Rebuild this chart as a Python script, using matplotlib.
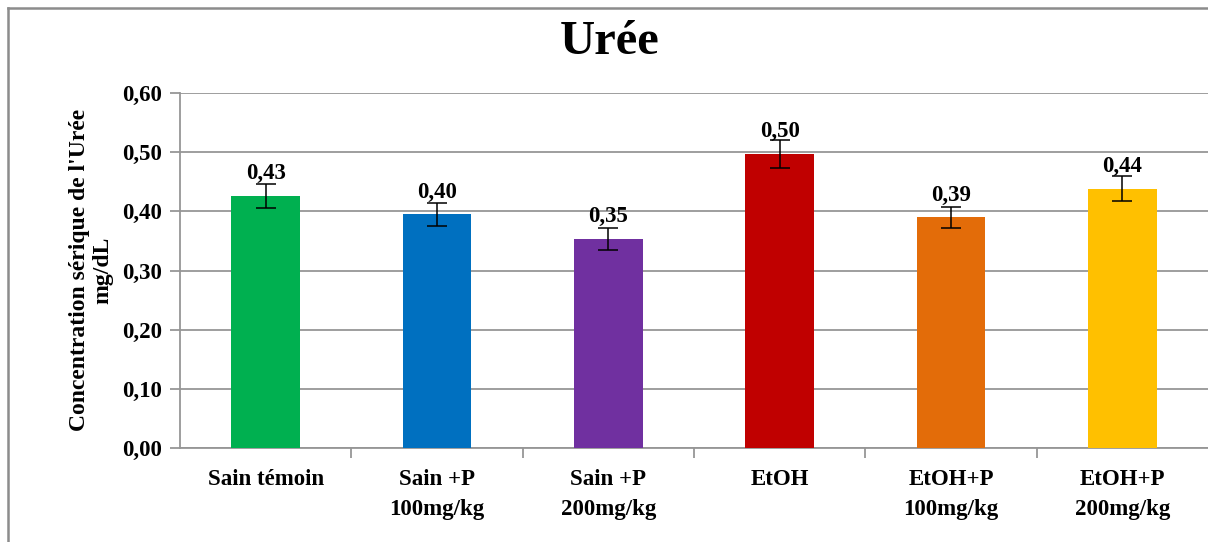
import matplotlib
matplotlib.use("Agg")
import matplotlib.pyplot as plt
from matplotlib.lines import Line2D
from matplotlib.ticker import FuncFormatter, FixedLocator

# Daten
groups = ["Sain témoin", "Sain +P\n100mg/kg", "Sain +P\n200mg/kg",
          "EtOH", "EtOH+P\n100mg/kg", "EtOH+P\n200mg/kg"]
means = [0.426, 0.395, 0.353, 0.497, 0.390, 0.438]
errors = [0.020, 0.019, 0.019, 0.024, 0.018, 0.021]
colors = ["#00B050", "#0070C0", "#7030A0", "#C00000", "#E36C09", "#FFC000"]
yticks = [0.0, 0.1, 0.2, 0.3, 0.4, 0.5, 0.6]

plt.rcParams["font.family"] = ["Liberation Serif", "DejaVu Serif"]
plt.rcParams["font.weight"] = "bold"

W, H = 1208, 542
fig = plt.figure(figsize=(W / 100, H / 100), dpi=100)
ax = fig.add_axes([180 / W, 1 - 448 / H, 1 - 180 / W, (448 - 93) / H])

x = list(range(len(groups)))
ax.bar(x, means, width=0.40, color=colors, zorder=3)
ax.errorbar(x, means, yerr=errors, fmt="none", ecolor="black",
            elinewidth=1.1, capsize=7, capthick=1.1, zorder=4)

def comma(v, pos=None):
    return f"{v:.2f}".replace(".", ",")

# Werte ueber die Balken schreiben
for xi, v in zip(x, means):
    ax.annotate(comma(v), (xi, v), xytext=(0, 16), textcoords="offset points",
                ha="center", va="center", fontsize=16.5, fontweight="bold")

ax.set_xlim(-0.5, len(groups) - 0.5)
ax.set_ylim(0, 0.6)
ax.set_yticks(yticks)
ax.yaxis.set_major_formatter(FuncFormatter(comma))
ax.grid(True, axis="y", color="#969696", linewidth=1.3, zorder=0)

ax.set_xticks(x)
ax.set_xticklabels(groups, fontsize=16.5, fontweight="bold", linespacing=1.6)
ax.tick_params(axis="x", which="major", length=0, pad=15)
ax.xaxis.set_minor_locator(FixedLocator([i + 0.5 for i in range(len(groups) - 1)]))
ax.tick_params(axis="x", which="minor", length=7, color="#969696", width=1.3)
ax.tick_params(axis="y", length=7, color="#969696", width=1.3, labelsize=16.5, pad=6)

for s in ["top", "right"]:
    ax.spines[s].set_visible(False)
for s in ["left", "bottom"]:
    ax.spines[s].set_color("#969696")
    ax.spines[s].set_linewidth(1.3)

fig.text(0.505, 1 - 42 / H, "Urée", ha="center", va="center",
         fontsize=35, fontweight="bold")
fig.text(91 / W, 1 - 270 / H, "Concentration sérique de l'Urée\nmg/dL",
         rotation=90, ha="center", va="center", multialignment="center",
         fontsize=17, fontweight="bold", linespacing=1.15)

# Rahmen wie im Excel-Diagramm (nur links und oben sichtbar)
fig.add_artist(Line2D([8 / W, 8 / W], [0, 1 - 8 / H], color="#8c8c8c", linewidth=1.8))
fig.add_artist(Line2D([8 / W, 1], [1 - 8 / H, 1 - 8 / H], color="#8c8c8c", linewidth=1.8))

fig.savefig("out.png", dpi=100)
